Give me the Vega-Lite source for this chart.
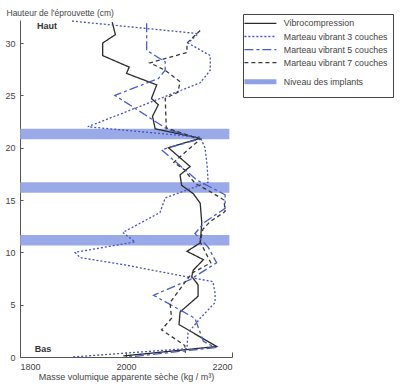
{
  "$schema": "https://vega.github.io/schema/vega-lite/v6.json",
  "width": 212,
  "height": 337,
  "autosize": {"type": "none"},
  "padding": {"left": 20, "top": 20, "right": 174, "bottom": 35},
  "background": "white",
  "config": {"font": "Liberation Sans", "view": {"stroke": null}},
  "datasets": {
    "bands": [
      {"series": "Niveau des implants", "x": 1800, "x2": 2195, "y": 20.8, "y2": 21.8},
      {"series": "Niveau des implants", "x": 1800, "x2": 2195, "y": 15.7, "y2": 16.7},
      {"series": "Niveau des implants", "x": 1800, "x2": 2195, "y": 10.65, "y2": 11.65}
    ],
    "lines": [
      {"series": "Vibrocompression", "x": 1974, "y": 32.0},
      {"series": "Vibrocompression", "x": 1980, "y": 30.8},
      {"series": "Vibrocompression", "x": 1956, "y": 30.0},
      {"series": "Vibrocompression", "x": 1956, "y": 28.8},
      {"series": "Vibrocompression", "x": 2006, "y": 27.7},
      {"series": "Vibrocompression", "x": 2001, "y": 27.1},
      {"series": "Vibrocompression", "x": 2058, "y": 26.0},
      {"series": "Vibrocompression", "x": 2048, "y": 24.7},
      {"series": "Vibrocompression", "x": 2061, "y": 24.1},
      {"series": "Vibrocompression", "x": 2050, "y": 23.0},
      {"series": "Vibrocompression", "x": 2055, "y": 21.8},
      {"series": "Vibrocompression", "x": 2140, "y": 20.9},
      {"series": "Vibrocompression", "x": 2080, "y": 20.0},
      {"series": "Vibrocompression", "x": 2121, "y": 18.2},
      {"series": "Vibrocompression", "x": 2102, "y": 17.4},
      {"series": "Vibrocompression", "x": 2105, "y": 16.4},
      {"series": "Vibrocompression", "x": 2127, "y": 15.6},
      {"series": "Vibrocompression", "x": 2140, "y": 14.7},
      {"series": "Vibrocompression", "x": 2143, "y": 12.8},
      {"series": "Vibrocompression", "x": 2140, "y": 10.9},
      {"series": "Vibrocompression", "x": 2115, "y": 10.1},
      {"series": "Vibrocompression", "x": 2146, "y": 9.3},
      {"series": "Vibrocompression", "x": 2127, "y": 8.3},
      {"series": "Vibrocompression", "x": 2124, "y": 7.7},
      {"series": "Vibrocompression", "x": 2136, "y": 6.9},
      {"series": "Vibrocompression", "x": 2136, "y": 5.8},
      {"series": "Vibrocompression", "x": 2102, "y": 4.3},
      {"series": "Vibrocompression", "x": 2100, "y": 3.1},
      {"series": "Vibrocompression", "x": 2171, "y": 1.0},
      {"series": "Vibrocompression", "x": 1995, "y": 0.1},
      {"series": "Marteau vibrant 3 couches", "x": 1898, "y": 32.1},
      {"series": "Marteau vibrant 3 couches", "x": 2136, "y": 30.9},
      {"series": "Marteau vibrant 3 couches", "x": 2117, "y": 30.0},
      {"series": "Marteau vibrant 3 couches", "x": 2159, "y": 28.8},
      {"series": "Marteau vibrant 3 couches", "x": 2159, "y": 27.4},
      {"series": "Marteau vibrant 3 couches", "x": 2140, "y": 26.2},
      {"series": "Marteau vibrant 3 couches", "x": 1928, "y": 22.0},
      {"series": "Marteau vibrant 3 couches", "x": 2140, "y": 21.0},
      {"series": "Marteau vibrant 3 couches", "x": 2149, "y": 20.0},
      {"series": "Marteau vibrant 3 couches", "x": 2153, "y": 18.3},
      {"series": "Marteau vibrant 3 couches", "x": 2155, "y": 16.7},
      {"series": "Marteau vibrant 3 couches", "x": 2074, "y": 15.2},
      {"series": "Marteau vibrant 3 couches", "x": 2064, "y": 13.8},
      {"series": "Marteau vibrant 3 couches", "x": 1994, "y": 11.9},
      {"series": "Marteau vibrant 3 couches", "x": 2017, "y": 11.0},
      {"series": "Marteau vibrant 3 couches", "x": 1904, "y": 10.0},
      {"series": "Marteau vibrant 3 couches", "x": 1913, "y": 9.5},
      {"series": "Marteau vibrant 3 couches", "x": 1998, "y": 8.8},
      {"series": "Marteau vibrant 3 couches", "x": 2121, "y": 7.6},
      {"series": "Marteau vibrant 3 couches", "x": 2164, "y": 7.2},
      {"series": "Marteau vibrant 3 couches", "x": 2168, "y": 6.1},
      {"series": "Marteau vibrant 3 couches", "x": 2168, "y": 5.2},
      {"series": "Marteau vibrant 3 couches", "x": 2140, "y": 3.7},
      {"series": "Marteau vibrant 3 couches", "x": 2117, "y": 2.3},
      {"series": "Marteau vibrant 3 couches", "x": 2115, "y": 0.8},
      {"series": "Marteau vibrant 3 couches", "x": 1898, "y": 0.0},
      {"series": "Marteau vibrant 5 couches", "x": 2039, "y": 31.9},
      {"series": "Marteau vibrant 5 couches", "x": 2039, "y": 29.3},
      {"series": "Marteau vibrant 5 couches", "x": 2074, "y": 28.2},
      {"series": "Marteau vibrant 5 couches", "x": 2074, "y": 27.4},
      {"series": "Marteau vibrant 5 couches", "x": 2061, "y": 26.6},
      {"series": "Marteau vibrant 5 couches", "x": 1979, "y": 25.0},
      {"series": "Marteau vibrant 5 couches", "x": 2080, "y": 21.7},
      {"series": "Marteau vibrant 5 couches", "x": 2140, "y": 20.85},
      {"series": "Marteau vibrant 5 couches", "x": 2067, "y": 19.8},
      {"series": "Marteau vibrant 5 couches", "x": 2134, "y": 16.9},
      {"series": "Marteau vibrant 5 couches", "x": 2187, "y": 15.5},
      {"series": "Marteau vibrant 5 couches", "x": 2187, "y": 14.2},
      {"series": "Marteau vibrant 5 couches", "x": 2149, "y": 12.9},
      {"series": "Marteau vibrant 5 couches", "x": 2130, "y": 11.8},
      {"series": "Marteau vibrant 5 couches", "x": 2155, "y": 10.5},
      {"series": "Marteau vibrant 5 couches", "x": 2171, "y": 9.0},
      {"series": "Marteau vibrant 5 couches", "x": 2121, "y": 7.4},
      {"series": "Marteau vibrant 5 couches", "x": 2052, "y": 5.9},
      {"series": "Marteau vibrant 5 couches", "x": 2130, "y": 3.7},
      {"series": "Marteau vibrant 5 couches", "x": 2146, "y": 1.5},
      {"series": "Marteau vibrant 5 couches", "x": 2168, "y": 0.9},
      {"series": "Marteau vibrant 5 couches", "x": 2005, "y": 0.0},
      {"series": "Marteau vibrant 7 couches", "x": 2140, "y": 31.2},
      {"series": "Marteau vibrant 7 couches", "x": 2115, "y": 30.0},
      {"series": "Marteau vibrant 7 couches", "x": 2115, "y": 29.1},
      {"series": "Marteau vibrant 7 couches", "x": 2045, "y": 28.1},
      {"series": "Marteau vibrant 7 couches", "x": 2074, "y": 27.4},
      {"series": "Marteau vibrant 7 couches", "x": 2102, "y": 26.3},
      {"series": "Marteau vibrant 7 couches", "x": 2098, "y": 25.3},
      {"series": "Marteau vibrant 7 couches", "x": 2074, "y": 24.7},
      {"series": "Marteau vibrant 7 couches", "x": 2076, "y": 21.9},
      {"series": "Marteau vibrant 7 couches", "x": 2140, "y": 20.8},
      {"series": "Marteau vibrant 7 couches", "x": 2117, "y": 19.8},
      {"series": "Marteau vibrant 7 couches", "x": 2090, "y": 18.6},
      {"series": "Marteau vibrant 7 couches", "x": 2110, "y": 17.9},
      {"series": "Marteau vibrant 7 couches", "x": 2130, "y": 16.6},
      {"series": "Marteau vibrant 7 couches", "x": 2159, "y": 15.8},
      {"series": "Marteau vibrant 7 couches", "x": 2185, "y": 15.0},
      {"series": "Marteau vibrant 7 couches", "x": 2187, "y": 13.9},
      {"series": "Marteau vibrant 7 couches", "x": 2158, "y": 12.9},
      {"series": "Marteau vibrant 7 couches", "x": 2145, "y": 12.2},
      {"series": "Marteau vibrant 7 couches", "x": 2140, "y": 11.0},
      {"series": "Marteau vibrant 7 couches", "x": 2150, "y": 10.0},
      {"series": "Marteau vibrant 7 couches", "x": 2160, "y": 9.0},
      {"series": "Marteau vibrant 7 couches", "x": 2124, "y": 8.0},
      {"series": "Marteau vibrant 7 couches", "x": 2105, "y": 6.7},
      {"series": "Marteau vibrant 7 couches", "x": 2083, "y": 5.2},
      {"series": "Marteau vibrant 7 couches", "x": 2086, "y": 3.7},
      {"series": "Marteau vibrant 7 couches", "x": 2067, "y": 2.6},
      {"series": "Marteau vibrant 7 couches", "x": 2111, "y": 1.1},
      {"series": "Marteau vibrant 7 couches", "x": 2112, "y": 0.4}
    ],
    "notes": [
      {"t": "Haut", "x": 1832, "y": 31.6},
      {"t": "Bas", "x": 1828, "y": 0.75}
    ]
  },
  "encoding": {
    "x": {
      "field": "x", "type": "quantitative",
      "scale": {"domain": [1800, 2200], "nice": false, "zero": false},
      "axis": {
        "values": [1800, 2000, 2200], "format": "d", "grid": false,
        "title": "Masse volumique apparente sèche (kg / m³)",
        "tickSize": -5, "labelPadding": 10, "titlePadding": 1,
        "labelFontSize": 9, "labelColor": "#444", "titleFontSize": 9, "titleFontWeight": "normal", "titleColor": "#444",
        "domainColor": "#555", "tickColor": "#555"
      }
    },
    "y": {
      "field": "y", "type": "quantitative",
      "scale": {"domain": [0, 32.2], "nice": false},
      "axis": {
        "values": [0, 5, 10, 15, 20, 25, 30], "grid": false,
        "title": "Hauteur de l'éprouvette (cm)",
        "titleAngle": 0, "titleAlign": "left", "titleBaseline": "middle", "titleX": -14, "titleY": -8,
        "tickSize": -3, "labelPadding": 8,
        "labelFontSize": 9, "labelColor": "#444", "titleFontSize": 8.5, "titleFontWeight": "normal", "titleColor": "#444",
        "domainColor": "#555", "tickColor": "#555"
      }
    }
  },
  "layer": [
    {
      "data": {"name": "bands"},
      "mark": {"type": "rect", "opacity": 0.9},
      "encoding": {
        "x2": {"field": "x2"},
        "y2": {"field": "y2"},
        "color": {
          "field": "series", "type": "nominal",
          "scale": {
            "domain": ["Vibrocompression", "Marteau vibrant 3 couches", "Marteau vibrant 5 couches", "Marteau vibrant 7 couches", "Niveau des implants"],
            "range": ["#2b2b2b", "#4a52bd", "#4a5cc8", "#3a3a3a", "#8fa1e6"]
          },
          "legend": {
            "title": null, "orient": "none", "legendX": 223, "legendY": -6,
            "strokeColor": "#444", "padding": 5, "rowPadding": 3.1,
            "symbolType": "M-3.2,0H3.2", "symbolSize": 100, "symbolOffset": 8, "labelOffset": 19,
            "symbolDash": {"expr": "datum.value === 'Marteau vibrant 3 couches' ? [2,2] : datum.value === 'Marteau vibrant 5 couches' ? [9,3,3,3] : datum.value === 'Marteau vibrant 7 couches' ? [4,3] : [1,0]"},
            "symbolStrokeWidth": {"expr": "datum.value === 'Niveau des implants' ? 5 : 1.3"},
            "symbolStrokeColor": {"expr": "scale('color', datum.value)"},
            "symbolFillColor": "transparent",
            "symbolOpacity": 1,
            "labelFontSize": 8.8, "labelColor": "#444"
          }
        }
      }
    },
    {
      "data": {"name": "lines"},
      "mark": {"type": "line", "strokeWidth": 1.3},
      "encoding": {
        "color": {"field": "series", "type": "nominal"},
        "strokeDash": {
          "field": "series", "type": "nominal",
          "scale": {
            "domain": ["Vibrocompression", "Marteau vibrant 3 couches", "Marteau vibrant 5 couches", "Marteau vibrant 7 couches"],
            "range": [[1, 0], [2, 2], [9, 3, 3, 3], [4, 3]]
          },
          "legend": null
        },
        "order": {"field": "y", "sort": "descending"}
      }
    },
    {
      "data": {"name": "notes"},
      "mark": {"type": "text", "align": "left", "baseline": "middle", "fontWeight": "bold", "fontSize": 9, "color": "#333"},
      "encoding": {"text": {"field": "t"}}
    }
  ]
}
